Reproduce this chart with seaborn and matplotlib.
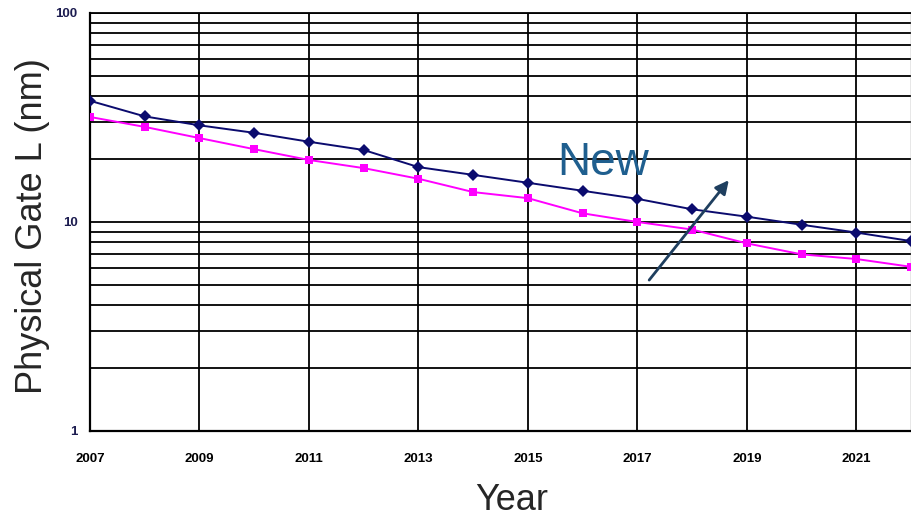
import matplotlib
matplotlib.use("Agg")
import matplotlib.pyplot as plt
from matplotlib.ticker import LogLocator, FixedLocator, NullFormatter, FixedFormatter
import seaborn as sns
import pandas as pd

# ---- data ----
years = list(range(2007, 2023))
navy_gate_nm = [38, 32, 29, 26.7, 24.2, 22.1, 18.3, 16.8, 15.4, 14.1, 12.9, 11.5, 10.6, 9.7, 8.9, 8.1]
magenta_gate_nm = [31.8, 28.5, 25.2, 22.3, 19.8, 18.1, 16.1, 13.9, 13.0, 11.0, 10.0, 9.2, 7.9, 7.0, 6.65, 6.1]
series_names = ["Roadmap A", "Roadmap B"]
x_tick_years = [2007, 2009, 2011, 2013, 2015, 2017, 2019, 2021]
x_minor_years = [2008, 2010, 2012, 2014, 2016, 2018, 2020, 2022]
y_major = [1, 10, 100]
y_major_labels = ["1", "10", "100"]

df = pd.DataFrame({
    "Year": years + years,
    "Gate": navy_gate_nm + magenta_gate_nm,
    "Series": [series_names[0]] * len(years) + [series_names[1]] * len(years),
})

sns.set_style("white")
plt.rcParams["font.family"] = ["Liberation Sans", "DejaVu Sans"]

fig = plt.figure(figsize=(9.12, 5.19), dpi=100)
ax = fig.add_axes([0.0987, 0.1696, 0.9003, 0.8054])

sns.lineplot(
    data=df, x="Year", y="Gate", hue="Series", style="Series",
    palette={series_names[0]: "#0b0b6e", series_names[1]: "#ff00ff"},
    markers={series_names[0]: "D", series_names[1]: "s"},
    dashes=False, legend=False, ax=ax, linewidth=1.4,
    markersize=6, markeredgewidth=0, zorder=5,
)

ax.set_yscale("log")
ax.set_ylim(1, 100)
ax.set_xlim(2007, 2022)

# y ticks
ax.yaxis.set_major_locator(FixedLocator(y_major))
ax.yaxis.set_major_formatter(FixedFormatter(y_major_labels))
ax.yaxis.set_minor_locator(LogLocator(base=10, subs=range(2, 10)))
ax.yaxis.set_minor_formatter(NullFormatter())
ax.tick_params(axis="y", which="major", direction="out", length=5, width=1.2,
               color="black", pad=4, labelsize=9.5, labelcolor="#1c1c50")
ax.tick_params(axis="y", which="minor", length=0)
for lab in ax.get_yticklabels():
    lab.set_fontweight("bold")

# x ticks
ax.xaxis.set_major_locator(FixedLocator(x_tick_years))
ax.xaxis.set_minor_locator(FixedLocator(x_minor_years))
ax.set_xticklabels([str(y) for y in x_tick_years])
ax.tick_params(axis="x", which="major", length=0, pad=16, labelsize=9.5, labelcolor="black")
ax.tick_params(axis="x", which="minor", direction="in", length=5, width=1.2, color="black")
for lab in ax.get_xticklabels():
    lab.set_fontweight("bold")

# grid
ax.grid(True, axis="y", which="both", color="black", linewidth=1.3)
ax.grid(True, axis="x", which="major", color="black", linewidth=1.3)
ax.grid(False, axis="x", which="minor")

for side in ["left", "bottom"]:
    ax.spines[side].set_color("black")
    ax.spines[side].set_linewidth(1.6)
ax.spines["top"].set_color("black")
ax.spines["top"].set_linewidth(1.3)
ax.spines["right"].set_color("#888888")
ax.spines["right"].set_linewidth(1.0)

ax.set_xlabel("Year", fontsize=26)
ax.xaxis.set_label_coords(0.514, -0.124)
ax.set_ylabel("Physical Gate L (nm)", fontsize=26)
ax.yaxis.set_label_coords(-0.049, 0.49)

# annotation
ax.annotate("", xy=(0.778, 0.600), xytext=(0.681, 0.361), xycoords="axes fraction",
            textcoords="axes fraction",
            arrowprops=dict(arrowstyle="-|>", color="#1f3f5f", lw=2.0, mutation_scale=20,
                            shrinkA=0, shrinkB=0),
            zorder=6)
ax.text(0.569, 0.612, "New", transform=ax.transAxes, fontsize=33,
        color="#1f5f8f", ha="left", va="baseline", zorder=6)

fig.savefig("out.png", dpi=100)
